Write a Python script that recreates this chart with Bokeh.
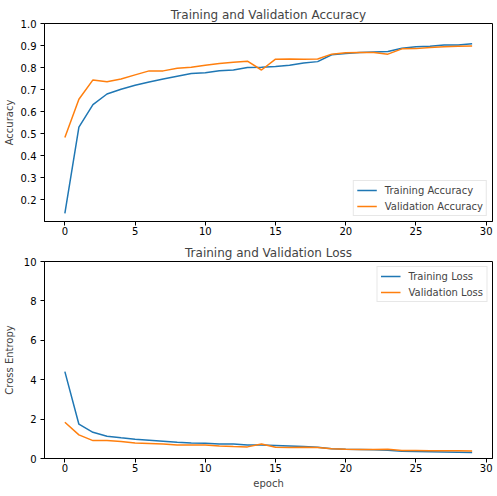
from bokeh.plotting import figure
from bokeh.layouts import column
from bokeh.models import FixedTicker, Range1d, Legend, LegendItem
from bokeh.embed import file_html
from bokeh.resources import INLINE

epochs = list(range(30))
train_acc = [0.139, 0.530, 0.632, 0.680, 0.702, 0.720, 0.735, 0.748, 0.761, 0.773,
             0.777, 0.786, 0.789, 0.800, 0.802, 0.805, 0.811, 0.821, 0.827, 0.858,
             0.864, 0.868, 0.871, 0.873, 0.888, 0.894, 0.897, 0.902, 0.903, 0.908]
val_acc = [0.483, 0.656, 0.744, 0.736, 0.748, 0.767, 0.785, 0.785, 0.797, 0.802,
           0.811, 0.818, 0.824, 0.829, 0.789, 0.838, 0.839, 0.838, 0.839, 0.861,
           0.867, 0.868, 0.868, 0.861, 0.885, 0.886, 0.891, 0.894, 0.897, 0.898]
train_loss = [4.41, 1.74, 1.33, 1.13, 1.05, 0.98, 0.93, 0.88, 0.83, 0.79,
              0.78, 0.74, 0.73, 0.69, 0.68, 0.66, 0.64, 0.61, 0.57, 0.49,
              0.47, 0.46, 0.44, 0.42, 0.37, 0.35, 0.34, 0.33, 0.32, 0.30]
val_loss = [1.84, 1.20, 0.91, 0.91, 0.86, 0.79, 0.76, 0.73, 0.69, 0.69,
            0.68, 0.64, 0.61, 0.59, 0.74, 0.57, 0.56, 0.57, 0.56, 0.49,
            0.47, 0.46, 0.46, 0.47, 0.41, 0.40, 0.39, 0.39, 0.39, 0.38]

x_ticks = [0, 5, 10, 15, 20, 25, 30]
acc_ticks = [0.2, 0.3, 0.4, 0.5, 0.6, 0.7, 0.8, 0.9, 1.0]
acc_tick_labels = ["0.2", "0.3", "0.4", "0.5", "0.6", "0.7", "0.8", "0.9", "1.0"]
loss_ticks = [0, 2, 4, 6, 8, 10]

BLUE = "#1f77b4"
ORANGE = "#ff7f0e"
FONT = "DejaVu Sans"


def style(p):
    p.grid.visible = False
    p.outline_line_color = "black"
    p.outline_line_width = 1
    p.title.text_font = FONT
    p.title.text_font_size = "12px"
    p.title.text_font_style = "normal"
    p.title.align = "center"
    p.title.standoff = 4
    for ax in (p.xaxis[0], p.yaxis[0]):
        ax.axis_line_color = "black"
        ax.major_tick_in = 0
        ax.major_tick_out = 4
        ax.minor_tick_line_color = None
        ax.major_label_text_font = FONT
        ax.major_label_text_font_size = "10px"
        ax.major_label_text_color = "black"
        ax.axis_label_text_font = FONT
        ax.axis_label_text_font_size = "10px"
        ax.axis_label_text_font_style = "normal"
    p.xaxis[0].ticker = FixedTicker(ticks=x_ticks)
    p.xaxis[0].major_label_standoff = 1
    p.xaxis[0].axis_label_standoff = 3
    p.yaxis[0].major_label_standoff = 4


def make_legend(p, items, loc):
    leg = Legend(items=items, location=loc)
    leg.label_text_font = FONT
    leg.label_text_font_size = "10px"
    leg.label_height = 12
    leg.glyph_height = 12
    leg.glyph_width = 20
    leg.label_standoff = 8
    leg.spacing = 4
    leg.padding = 3
    leg.margin = 5
    leg.border_line_color = "#d0d0d0"
    leg.border_line_width = 1
    leg.background_fill_alpha = 0.8
    p.add_layout(leg, "center")


W = 497
p1 = figure(width=W, height=240, output_backend="svg", toolbar_location=None,
            title="Training and Validation Accuracy",
            x_range=Range1d(-1.45, 30.45), y_range=Range1d(0.1016, 1.0),
            min_border_left=44, min_border_right=5, min_border_top=23, min_border_bottom=19)
style(p1)
p1.yaxis[0].ticker = FixedTicker(ticks=acc_ticks)
p1.yaxis[0].major_label_overrides = {t: s for t, s in zip(acc_ticks, acc_tick_labels)}
p1.yaxis[0].axis_label = "Accuracy"
p1.yaxis[0].axis_label_standoff = 3
r1 = p1.line(epochs, train_acc, line_color=BLUE, line_width=1.5)
r2 = p1.line(epochs, val_acc, line_color=ORANGE, line_width=1.5)
make_legend(p1, [LegendItem(label="Training Accuracy", renderers=[r1]),
                 LegendItem(label="Validation Accuracy", renderers=[r2])], "bottom_right")

p2 = figure(width=W, height=256, output_backend="svg", toolbar_location=None,
            title="Training and Validation Loss",
            x_range=Range1d(-1.45, 30.45), y_range=Range1d(0, 10),
            min_border_left=44, min_border_right=5, min_border_top=21, min_border_bottom=38)
style(p2)
p2.yaxis[0].ticker = FixedTicker(ticks=loss_ticks)
p2.yaxis[0].axis_label = "Cross Entropy"
p2.yaxis[0].axis_label_standoff = 6
p2.xaxis[0].axis_label = "epoch"
r3 = p2.line(epochs, train_loss, line_color=BLUE, line_width=1.5)
r4 = p2.line(epochs, val_loss, line_color=ORANGE, line_width=1.5)
make_legend(p2, [LegendItem(label="Training Loss", renderers=[r3]),
                 LegendItem(label="Validation Loss", renderers=[r4])], "top_right")

layout = column(p1, p2, spacing=0)
open("out.html", "w").write(file_html(layout, INLINE))
